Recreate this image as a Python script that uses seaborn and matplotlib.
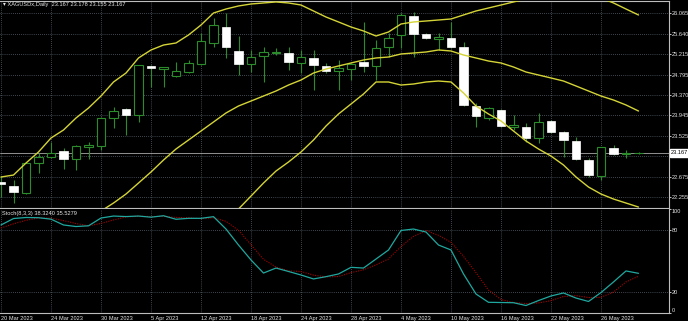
import numpy as np
import pandas as pd
import matplotlib
matplotlib.use("Agg")
import matplotlib.pyplot as plt
import matplotlib.transforms as mtransforms
import seaborn as sns

# ---------------- data ----------------
symbol_title = "XAGUSDx,Daily  23.167 23.178 23.155 23.167"
stoch_title = "Stoch(8,3,3) 38.3240 35.5279"

opens = [22.565, 22.482, 22.337, 22.959, 23.084, 23.208, 23.042, 23.291, 23.312, 23.893,
         24.080, 23.955, 24.972, 24.909, 24.764, 24.847, 25.013, 25.449, 25.781, 25.283,
         25.013, 25.179, 25.241, 25.241, 25.034, 25.138, 24.972, 24.868, 24.909, 25.055,
         24.972, 25.366, 25.615, 26.009, 25.636, 25.532, 25.553, 25.366, 24.142, 23.893,
         24.059, 23.706, 23.706, 23.478, 23.831, 23.602, 23.416, 23.021, 22.689, 23.270,
         23.146, 23.167]
highs = [22.690, 22.607, 22.970, 23.167, 23.395, 23.270, 23.330, 23.395, 23.914, 24.121,
         24.100, 25.000, 24.985, 24.960, 25.055, 25.096, 25.656, 25.968, 26.071, 25.594,
         25.304, 25.366, 25.345, 25.366, 25.304, 25.304, 25.034, 25.096, 25.034, 25.885,
         25.511, 25.656, 26.071, 26.092, 25.656, 25.656, 25.885, 25.470, 24.204, 24.121,
         24.080, 23.955, 23.789, 23.997, 23.850, 23.623, 23.499, 23.063, 23.300, 23.333,
         23.229, 23.178]
lows = [22.254, 22.129, 22.316, 22.752, 23.063, 22.835, 22.814, 23.042, 23.229, 23.685,
        23.540, 23.810, 24.536, 24.536, 24.743, 24.826, 24.992, 25.366, 25.138, 24.785,
        24.847, 24.640, 25.200, 24.889, 24.826, 24.474, 24.826, 24.474, 24.681, 24.847,
        24.681, 25.158, 25.345, 25.158, 25.532, 25.304, 25.345, 24.150, 23.706, 23.851,
        23.700, 23.644, 23.395, 23.374, 23.580, 23.084, 23.021, 22.669, 22.607, 23.125,
        23.063, 23.155]
closes = [22.524, 22.358, 22.959, 23.084, 23.167, 23.042, 23.312, 23.333, 23.893, 24.038,
          23.955, 24.992, 24.930, 24.951, 24.868, 25.034, 25.490, 25.822, 25.366, 25.013,
          25.158, 25.262, 25.262, 25.055, 25.158, 24.992, 24.868, 24.930, 25.013, 24.972,
          25.345, 25.553, 26.030, 25.636, 25.553, 25.573, 25.366, 24.163, 23.934, 24.100,
          23.727, 23.748, 23.478, 23.810, 23.602, 23.436, 23.042, 22.710, 23.291, 23.146,
          23.160, 23.167]

nan = np.nan
bb_upper = [22.669, 22.710, 22.959, 23.188, 23.478, 23.644, 23.893, 24.100, 24.349, 24.640,
            24.826, 25.138, 25.304, 25.407, 25.449, 25.615, 25.822, 26.071, 26.154, 26.217,
            26.258, 26.279, 26.300, 26.279, 26.237, 26.113, 25.988, 25.885, 25.781, 25.698,
            25.594, 25.677, 25.843, 25.885, 25.905, 25.926, 25.947, 26.030, 26.113, 26.175,
            26.237, 26.300, 26.362, 26.403, 26.424, 26.445, 26.445, 26.424, 26.382, 26.279,
            26.154, 26.030]
bb_middle = [nan, nan, nan, nan, nan, nan, nan, 21.756, 21.963, 22.129,
             22.316, 22.544, 22.773, 23.021, 23.250, 23.436, 23.623, 23.810, 23.997, 24.142,
             24.245, 24.349, 24.453, 24.577, 24.681, 24.826, 24.909, 24.972, 25.034, 25.096,
             25.138, 25.158, 25.221, 25.241, 25.262, 25.304, 25.283, 25.200, 25.138, 25.075,
             25.034, 24.951, 24.847, 24.785, 24.723, 24.660, 24.557, 24.453, 24.349, 24.266,
             24.163, 24.038]
bb_lower = [nan, nan, nan, nan, nan, nan, nan, nan, nan, nan,
            nan, nan, nan, nan, nan, nan, nan, nan, 21.735, 22.005,
            22.274, 22.544, 22.793, 22.980, 23.188, 23.436, 23.727, 23.976, 24.183, 24.391,
            24.640, 24.640, 24.577, 24.598, 24.640, 24.660, 24.640, 24.412, 24.142, 23.976,
            23.831, 23.623, 23.416, 23.250, 23.104, 22.918, 22.669, 22.461, 22.316, 22.212,
            22.129, 22.046]

stoch_k = [84.9, 91.1, 92.1, 91.9, 90.5, 84.9, 83.4, 84.1, 91.6, 93.5,
           93.0, 93.5, 92.4, 93.8, 90.4, 91.3, 91.3, 92.9, 81.0, 65.6,
           51.2, 38.6, 43.4, 40.1, 36.7, 32.9, 35.1, 37.7, 44.1, 43.4,
           52.1, 60.8, 79.6, 81.0, 78.1, 65.6, 60.8, 37.7, 18.4, 10.4,
           10.2, 10.0, 7.3, 12.1, 16.5, 19.4, 14.5, 11.2, 19.8, 30.0,
           40.6, 38.324]
stoch_d = [82.0, 86.0, 89.4, 91.7, 91.5, 89.1, 86.3, 84.1, 86.4, 89.7,
           92.7, 93.3, 93.0, 93.2, 92.2, 91.8, 91.0, 91.8, 88.4, 79.8,
           65.9, 51.8, 44.4, 40.7, 40.1, 36.6, 34.9, 35.2, 39.0, 41.7,
           46.5, 52.1, 64.2, 73.8, 79.6, 74.9, 68.2, 54.7, 39.0, 22.2,
           13.0, 10.2, 9.2, 9.8, 12.0, 16.0, 16.8, 15.0, 15.2, 20.3,
           30.1, 35.528]

date_labels = ["20 Mar 2023", "24 Mar 2023", "30 Mar 2023", "5 Apr 2023", "12 Apr 2023",
               "18 Apr 2023", "24 Apr 2023", "28 Apr 2023", "4 May 2023", "10 May 2023",
               "16 May 2023", "22 May 2023", "26 May 2023"]
label_every = 4
price_ticks = [26.065, 25.640, 25.215, 24.795, 24.370, 23.945, 23.525, 23.100, 22.675, 22.255]
stoch_ticks = [0, 20, 80, 100]
stoch_levels = [20, 80]
current_price = 23.167

# ---------------- style ----------------
sns.set_style("dark", {"axes.facecolor": "black", "figure.facecolor": "black"})
plt.rcParams["font.family"] = ["Liberation Sans", "DejaVu Sans"]

BG = "black"
FG = "#e6e6e6"
GRID = "#7a8898"
BULL = "#2a8c2a"
BAND = "#d4d436"
AXC = "#bdbdbd"
FS = 4.1

W, H = 688, 321
fig = plt.figure(figsize=(W / 100, H / 100), dpi=100, facecolor=BG)
ax = fig.add_axes([0, 113 / H, 669 / W, 207 / H])
ax2 = fig.add_axes([0, 7.9 / H, 669 / W, 103.8 / H], sharex=ax)

n = len(opens)
idx = np.arange(n)
o = np.array(opens); c = np.array(closes)
hi = np.array(highs); lo = np.array(lows)
up = c >= o
body_lo = np.minimum(o, c)
body_h = np.abs(c - o)

for a in (ax, ax2):
    a.set_facecolor(BG)
    a.set_xlim(-0.08, 53.44)
    a.spines["left"].set_visible(False)
    for s in ("top", "right", "bottom"):
        a.spines[s].set_color(AXC)
        a.spines[s].set_linewidth(0.8)

# candles
ax.vlines(idx, lo, hi, color=BULL, lw=0.8, zorder=2)
ax.bar(idx[up], body_h[up], bottom=body_lo[up], width=0.66, color="black",
       edgecolor=BULL, linewidth=0.8, zorder=3)
ax.bar(idx[~up], body_h[~up], bottom=body_lo[~up], width=0.66, color="white",
       edgecolor="white", linewidth=0.5, zorder=3)

# Bollinger bands
bands = pd.DataFrame({"bar": idx, "upper": bb_upper, "middle": bb_middle, "lower": bb_lower})
for col in ("upper", "middle", "lower"):
    d = bands[["bar", col]].dropna()
    sns.lineplot(data=d, x="bar", y=col, ax=ax, color=BAND, linewidth=1.0,
                 estimator=None, sort=False, zorder=4)

ax.set_ylim(22.026, 26.320)
ax.axhline(current_price, color="#a8a8a8", lw=0.6, zorder=1.5)

tick_pos = [i * label_every for i in range(len(date_labels))]
ax.set_xticks(tick_pos)
ax.set_yticks(price_ticks)
ax.set_yticklabels([f"{v:.3f}" for v in price_ticks])
ax.yaxis.tick_right()
ax.tick_params(axis="y", colors=FG, labelsize=FS, length=1.2, width=0.6, pad=0.6, labelcolor=FG)
ax.tick_params(axis="x", length=0, labelbottom=False)
ax.grid(True, color=GRID, linestyle=(0, (1, 2)), linewidth=0.5)
ax.set_xlabel(""); ax.set_ylabel("")

trans = mtransforms.blended_transform_factory(ax.transAxes, ax.transData)
ax.text(1.0 + 2.0 / 669, current_price, f"{current_price:.3f}", transform=trans,
        ha="left", va="center", fontsize=FS, color="black", clip_on=False, zorder=10,
        bbox=dict(boxstyle="square,pad=0.2", facecolor="white", edgecolor="white"))

# Stochastic panel
stoch = pd.DataFrame({"bar": idx, "k": stoch_k, "d": stoch_d})
sns.lineplot(data=stoch, x="bar", y="d", ax=ax2, color="#a80000", linewidth=0.8,
             linestyle=(0, (1, 1.2)), estimator=None, sort=False, zorder=3)
sns.lineplot(data=stoch, x="bar", y="k", ax=ax2, color="#1fa89f", linewidth=0.9,
             estimator=None, sort=False, zorder=4)
ax2.set_ylim(0, 100)
ax2.spines["top"].set_visible(False)
for lv in stoch_levels:
    ax2.axhline(lv, color=GRID, linestyle=(0, (1, 2)), linewidth=0.5, zorder=1)
ax2.grid(True, axis="x", color=GRID, linestyle=(0, (1, 2)), linewidth=0.5)
ax2.grid(False, axis="y")
ax2.set_yticks(stoch_ticks)
ax2.set_yticklabels([str(v) for v in stoch_ticks])
ax2.yaxis.tick_right()
ax2.tick_params(axis="y", colors=FG, labelsize=FS, length=1.2, width=0.6, pad=0.6)
ylabs = ax2.get_yticklabels()
ylabs[0].set_va("bottom")
ylabs[-1].set_va("top")
ax2.set_xticks(tick_pos)
ax2.set_xticklabels(date_labels, ha="left")
ax2.tick_params(axis="x", colors=FG, labelsize=FS, length=1.5, width=0.6, pad=0.6,
                labelbottom=True)
ax2.set_xlabel(""); ax2.set_ylabel("")

fig.text(3 / W, 1 - 4.5 / H, "\u25be " + symbol_title, fontsize=FS, color=FG,
         ha="left", va="center")
fig.text(2 / W, 1 - 213 / H, stoch_title, fontsize=FS, color=FG, ha="left", va="center")

fig.savefig("out.png", dpi=100, facecolor=BG)
